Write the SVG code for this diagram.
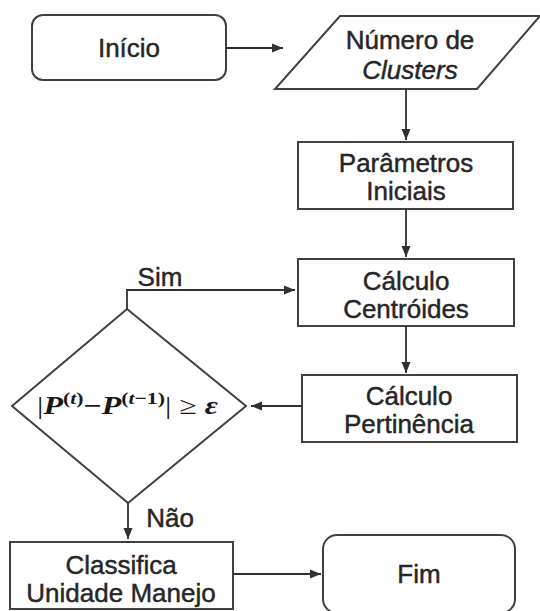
<svg xmlns="http://www.w3.org/2000/svg" width="540" height="611" viewBox="0 0 540 611">
  <style>
    .shape { fill: #ffffff; stroke: #404040; stroke-width: 2; }
    .lbl { font-family: "Liberation Sans", Arial, sans-serif; font-size: 26px; fill: #262626; stroke: #262626; stroke-width: 0.45; text-anchor: middle; }
    .conn { fill: none; stroke: #303030; stroke-width: 1.8; }
    .math { font-family: "Liberation Serif", "Times New Roman", serif; font-size: 25px; fill: #1a1a1a; }
    .bi { font-weight: bold; font-style: italic; }
    .sup { font-size: 17px; font-weight: bold; }
  </style>
  <defs>
    <marker id="arrow" markerUnits="userSpaceOnUse" markerWidth="12" markerHeight="10" refX="11" refY="5" orient="auto">
      <path d="M0,0.5 L11,5 L0,9.5 z" fill="#303030"/>
    </marker>
  </defs>
  <rect width="540" height="611" fill="#ffffff"/>

  <g id="inicio">
    <rect class="shape" x="32" y="15" width="194" height="65" rx="11"/>
    <text class="lbl" x="129" y="57">Início</text>
  </g>

  <g id="numero-clusters">
    <polygon class="shape" points="340,16 540,16 477,89 275,89"/>
    <text class="lbl" x="410" y="49">Número de</text>
    <text class="lbl" x="410" y="79" font-style="italic">Clusters</text>
  </g>

  <g id="parametros">
    <rect class="shape" x="298" y="142" width="215" height="67"/>
    <text class="lbl" x="406" y="172">Parâmetros</text>
    <text class="lbl" x="406" y="200">Iniciais</text>
  </g>

  <g id="centroides">
    <rect class="shape" x="298" y="259" width="216" height="67"/>
    <text class="lbl" x="406" y="290">Cálculo</text>
    <text class="lbl" x="406" y="318">Centróides</text>
  </g>

  <g id="pertinencia">
    <rect class="shape" x="302" y="375" width="215" height="67"/>
    <text class="lbl" x="409" y="405">Cálculo</text>
    <text class="lbl" x="409" y="433">Pertinência</text>
  </g>

  <g id="decisao">
    <polygon class="shape" points="127,309 246,406 128,503 12,406"/>
    <text class="math" x="37" y="414" textLength="181" lengthAdjust="spacingAndGlyphs">|<tspan class="bi">P</tspan><tspan class="sup" dy="-10">(<tspan font-style="italic">t</tspan>)</tspan><tspan font-weight="bold" dy="10">−</tspan><tspan class="bi">P</tspan><tspan class="sup" dy="-10">(<tspan font-style="italic">t</tspan>−1)</tspan><tspan dy="10">| ≥ </tspan><tspan class="bi">ε</tspan></text>
  </g>

  <g id="classifica">
    <rect class="shape" x="10" y="542" width="223" height="67"/>
    <text class="lbl" x="121" y="574">Classifica</text>
    <text class="lbl" x="121" y="602">Unidade Manejo</text>
  </g>

  <g id="fim">
    <rect class="shape" x="323" y="535" width="192" height="78" rx="14"/>
    <text class="lbl" x="419" y="583">Fim</text>
  </g>

  <g id="connectors">
    <line class="conn" x1="226" y1="48" x2="283" y2="48" marker-end="url(#arrow)"/>
    <line class="conn" x1="406" y1="89" x2="406" y2="140" marker-end="url(#arrow)"/>
    <line class="conn" x1="406" y1="209" x2="406" y2="257" marker-end="url(#arrow)"/>
    <line class="conn" x1="406" y1="326" x2="406" y2="373" marker-end="url(#arrow)"/>
    <line class="conn" x1="302" y1="406" x2="251" y2="406" marker-end="url(#arrow)"/>
    <polyline class="conn" points="127,309 127,290 295,290" marker-end="url(#arrow)"/>
    <line class="conn" x1="128" y1="503" x2="128" y2="539" marker-end="url(#arrow)"/>
    <line class="conn" x1="233" y1="574" x2="321" y2="574" marker-end="url(#arrow)"/>
    <text class="lbl" x="160" y="286">Sim</text>
    <text class="lbl" x="170" y="527">Não</text>
  </g>
</svg>
